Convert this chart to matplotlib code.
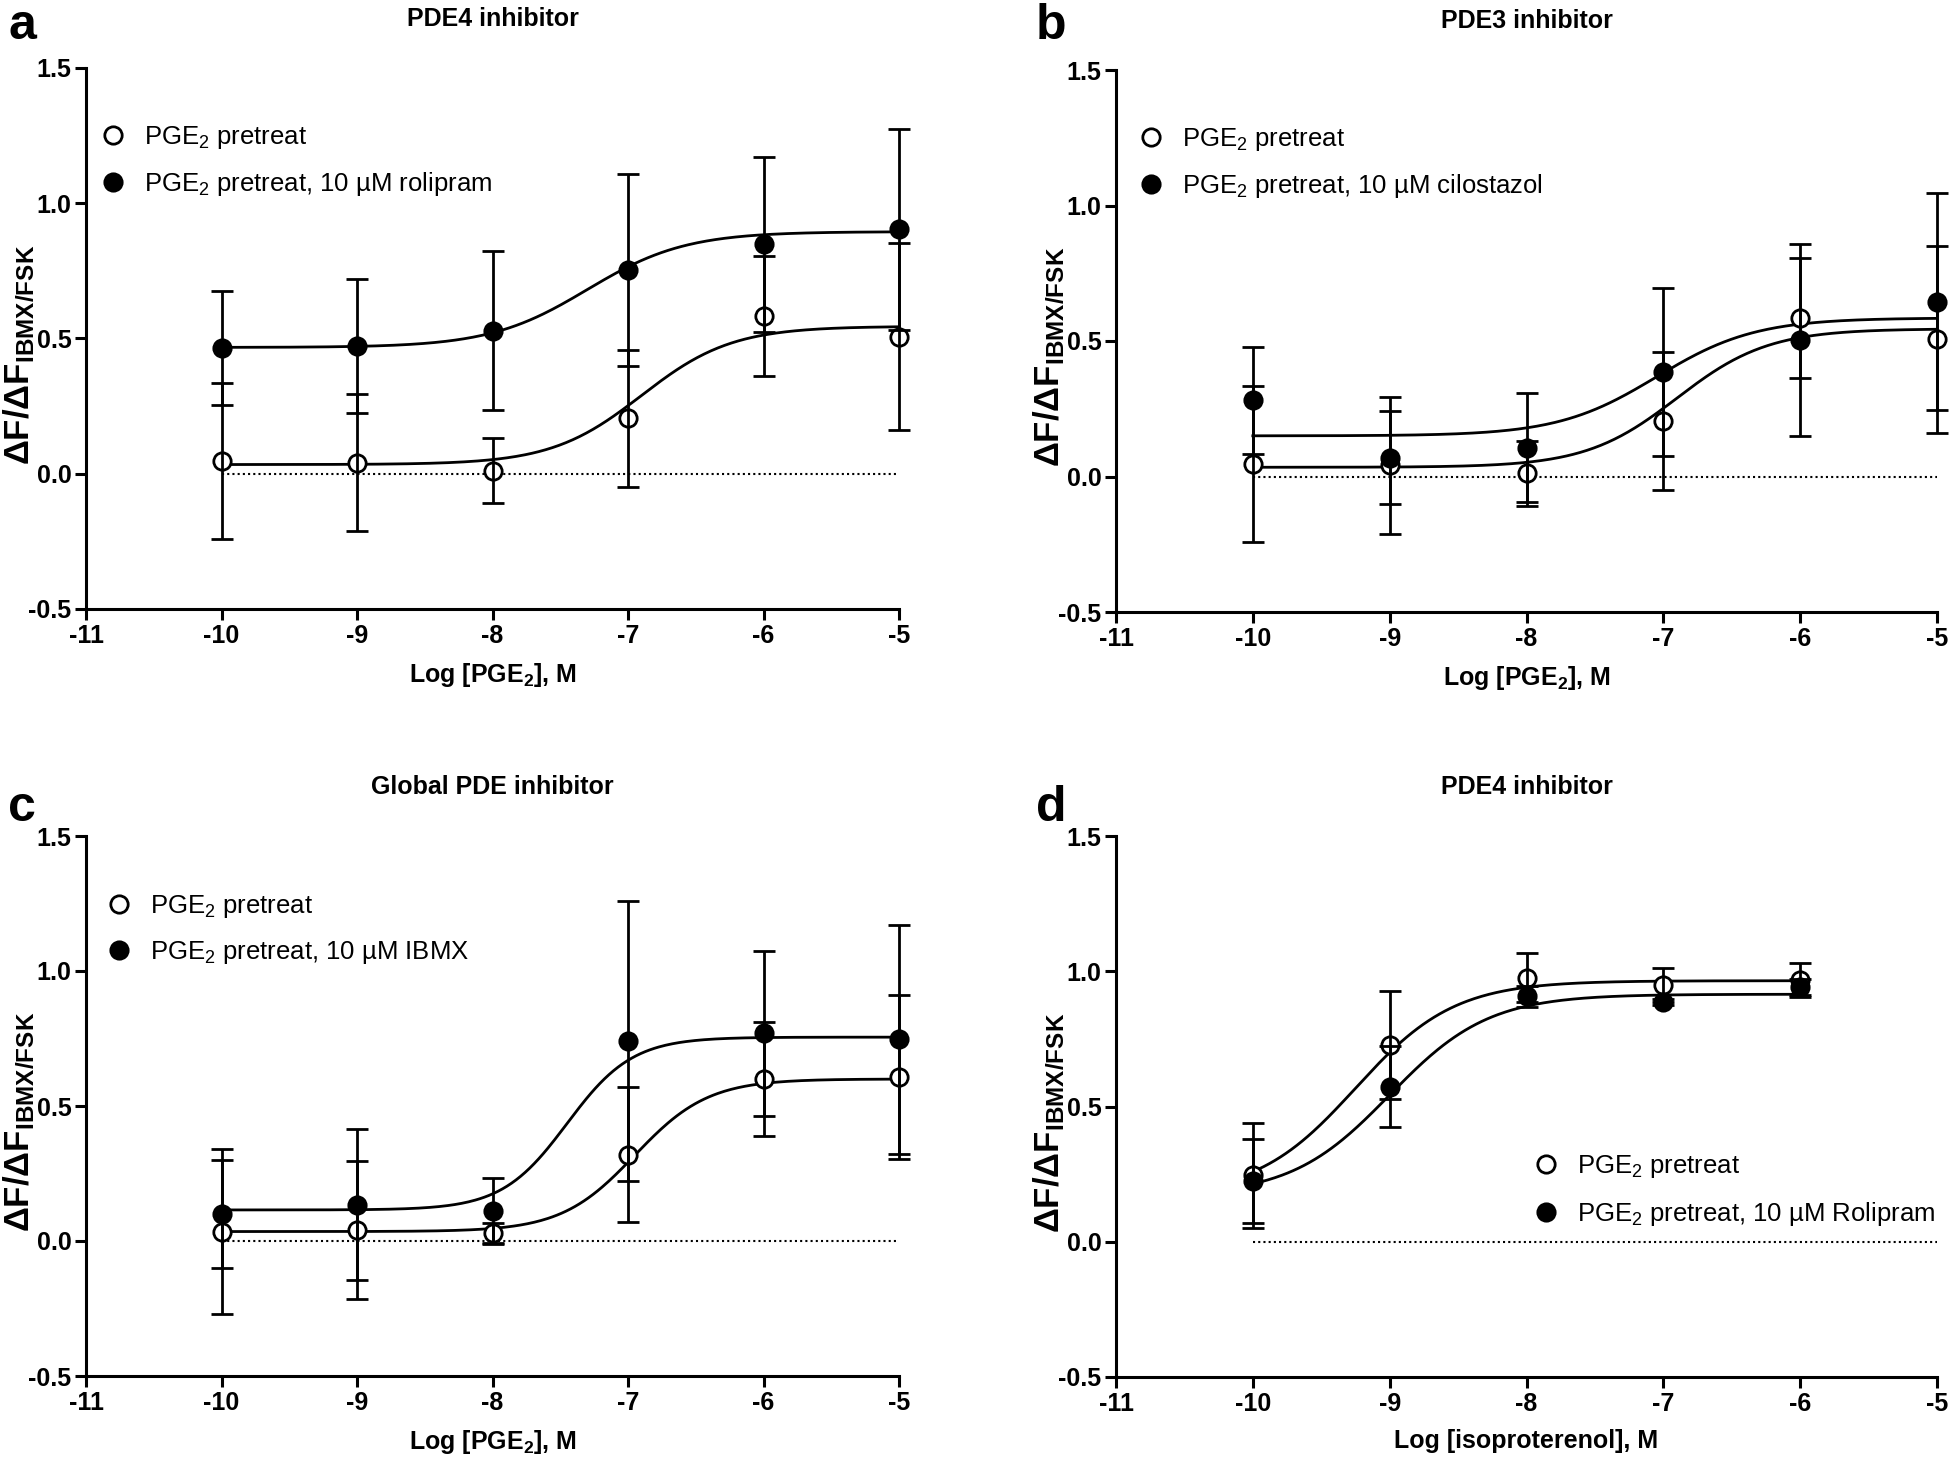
import matplotlib.pyplot as plt
import numpy as np

plt.rcParams["font.family"] = "Liberation Sans"
plt.rcParams["mathtext.fontset"] = "custom"
plt.rcParams["mathtext.rm"] = "Liberation Sans"
plt.rcParams["mathtext.bf"] = "Liberation Sans:bold"
plt.rcParams["mathtext.it"] = "Liberation Sans:italic"
plt.rcParams["mathtext.default"] = "regular"
plt.rcParams["axes.unicode_minus"] = False

# ---- data ----
log_pge2 = [-10, -9, -8, -7, -6, -5]
log_iso = [-10, -9, -8, -7, -6]

# PGE2 pretreat alone, shared by panels a and b
pge2_mean = [0.047, 0.041, 0.012, 0.205, 0.584, 0.507]
pge2_err = [0.287, 0.253, 0.120, 0.253, 0.222, 0.345]

rolipram_mean = [0.466, 0.472, 0.529, 0.753, 0.848, 0.903]
rolipram_err = [0.210, 0.247, 0.293, 0.354, 0.323, 0.373]

cilostazol_mean = [0.281, 0.070, 0.107, 0.384, 0.504, 0.645]
cilostazol_err = [0.197, 0.170, 0.200, 0.310, 0.355, 0.400]

pge2_c_mean = [0.034, 0.040, 0.028, 0.319, 0.600, 0.607]
pge2_c_err = [0.305, 0.255, 0.040, 0.250, 0.210, 0.305]
ibmx_mean = [0.100, 0.134, 0.112, 0.741, 0.769, 0.747]
ibmx_err = [0.200, 0.280, 0.120, 0.520, 0.305, 0.425]

pge2_d_mean = [0.245, 0.728, 0.976, 0.950, 0.969]
pge2_d_err = [0.195, 0.200, 0.090, 0.062, 0.063]
rolipram_d_mean = [0.224, 0.573, 0.907, 0.886, 0.941]
rolipram_d_err = [0.155, 0.150, 0.040, 0.010, 0.030]

# fitted curves: bottom, top, logEC50, hill slope
fit_a_open = (0.034, 0.545, -6.90, 1.3)
fit_a_fill = (0.467, 0.895, -7.30, 1.2)
fit_b_fill = (0.150, 0.585, -7.05, 1.2)
fit_c_open = (0.035, 0.600, -6.95, 1.6)
fit_c_fill = (0.115, 0.755, -7.45, 1.8)
fit_d_open = (0.170, 0.965, -9.25, 1.2)
fit_d_fill = (0.170, 0.915, -9.00, 1.2)

x_ticks = [-11, -10, -9, -8, -7, -6, -5]
y_ticks = [-0.5, 0.0, 0.5, 1.0, 1.5]
y_ticklabels = ["-0.5", "0.0", "0.5", "1.0", "1.5"]


def sigmoid(x, p):
    bottom, top, ec50, hill = p
    return bottom + (top - bottom) / (1 + 10 ** ((ec50 - x) * hill))


W, H = 1950, 1458
fig = plt.figure(figsize=(W / 100, H / 100), dpi=100)


def make_axes(left, right, top, bottom):
    return fig.add_axes([left / W, 1 - bottom / H, (right - left) / W, (bottom - top) / H])


YLABEL = r"$\mathbf{\Delta F/\Delta F_{IBMX/FSK}}$"


def draw_panel(ax, x, open_m, open_e, fill_m, fill_e, fit_open, fit_fill,
               labels, title, xlabel, legend_kw):
    xs = np.linspace(x[0], x[-1], 300)
    ax.plot([x[0], -5], [0, 0], ls=(0, (1, 1.5)), color="black", lw=1.5, zorder=1)
    ax.plot(xs, sigmoid(xs, fit_open), color="black", lw=2, zorder=2)
    ax.plot(xs, sigmoid(xs, fit_fill), color="black", lw=2, zorder=2)
    ax.plot(x, open_m, "o", ms=12.5, mfc="white", mec="black", mew=2,
            zorder=3, clip_on=False, label=labels[0])
    ax.plot(x, fill_m, "o", ms=12.5, mfc="black", mec="black", mew=2,
            zorder=3, clip_on=False, label=labels[1])
    for m, e in ((open_m, open_e), (fill_m, fill_e)):
        ax.errorbar(x, m, yerr=e, fmt="none", ecolor="black", elinewidth=2,
                    capsize=8, capthick=2, zorder=4, clip_on=False)

    ax.set_xlim(-11, -5)
    ax.set_ylim(-0.5, 1.5)
    ax.set_xticks(x_ticks)
    ax.set_xticklabels([str(t) for t in x_ticks], fontweight="bold")
    ax.set_yticks(y_ticks)
    ax.set_yticklabels(y_ticklabels, fontweight="bold")
    ax.tick_params(width=2.2, length=8, labelsize=18, pad=2.5)
    for s in ("top", "right"):
        ax.spines[s].set_visible(False)
    for s in ("left", "bottom"):
        ax.spines[s].set_linewidth(2.2)
    ax.set_title(title, fontsize=18, fontweight="bold", pad=30)
    ax.set_xlabel(xlabel, fontsize=18, fontweight="bold", labelpad=10)
    ax.set_ylabel(YLABEL, fontsize=25)
    ax.yaxis.set_label_coords(-0.06, 0.47)
    ax.legend(frameon=False, fontsize=18.5, handlelength=1.0, handletextpad=0.7,
              borderpad=0, borderaxespad=0, labelspacing=0.75, **legend_kw)


xlab_pge2 = r"Log [PGE$_\mathbf{2}$], M"
xlab_iso = "Log [isoproterenol], M"
lab_open = r"PGE$_2$ pretreat"

ax_a = make_axes(86, 899, 68, 609)
draw_panel(ax_a, log_pge2, pge2_mean, pge2_err, rolipram_mean, rolipram_err,
           fit_a_open, fit_a_fill,
           [lab_open, r"PGE$_2$ pretreat, 10 µM rolipram"],
           "PDE4 inhibitor", xlab_pge2,
           dict(loc="upper left", bbox_to_anchor=(0.018, 0.897)))

ax_b = make_axes(1116, 1937, 70, 612)
draw_panel(ax_b, log_pge2, pge2_mean, pge2_err, cilostazol_mean, cilostazol_err,
           fit_a_open, fit_b_fill,
           [lab_open, r"PGE$_2$ pretreat, 10 µM cilostazol"],
           "PDE3 inhibitor", xlab_pge2,
           dict(loc="upper left", bbox_to_anchor=(0.027, 0.897)))

ax_c = make_axes(86, 899, 836, 1376)
draw_panel(ax_c, log_pge2, pge2_c_mean, pge2_c_err, ibmx_mean, ibmx_err,
           fit_c_open, fit_c_fill,
           [lab_open, r"PGE$_2$ pretreat, 10 µM IBMX"],
           "Global PDE inhibitor", xlab_pge2,
           dict(loc="upper left", bbox_to_anchor=(0.025, 0.895)))

ax_d = make_axes(1116, 1937, 836, 1377)
draw_panel(ax_d, log_iso, pge2_d_mean, pge2_d_err, rolipram_d_mean, rolipram_d_err,
           fit_d_open, fit_d_fill,
           [lab_open, r"PGE$_2$ pretreat, 10 µM Rolipram"],
           "PDE4 inhibitor", xlab_iso,
           dict(loc="upper left", bbox_to_anchor=(0.508, 0.4135)))

for letter, (px, py) in {"a": (8, 39), "b": (1036, 39), "c": (8, 821), "d": (1036, 821)}.items():
    fig.text(px / W, 1 - py / H, letter, fontsize=36, fontweight="bold", va="baseline")

fig.savefig("out.png", dpi=100, facecolor="white")
